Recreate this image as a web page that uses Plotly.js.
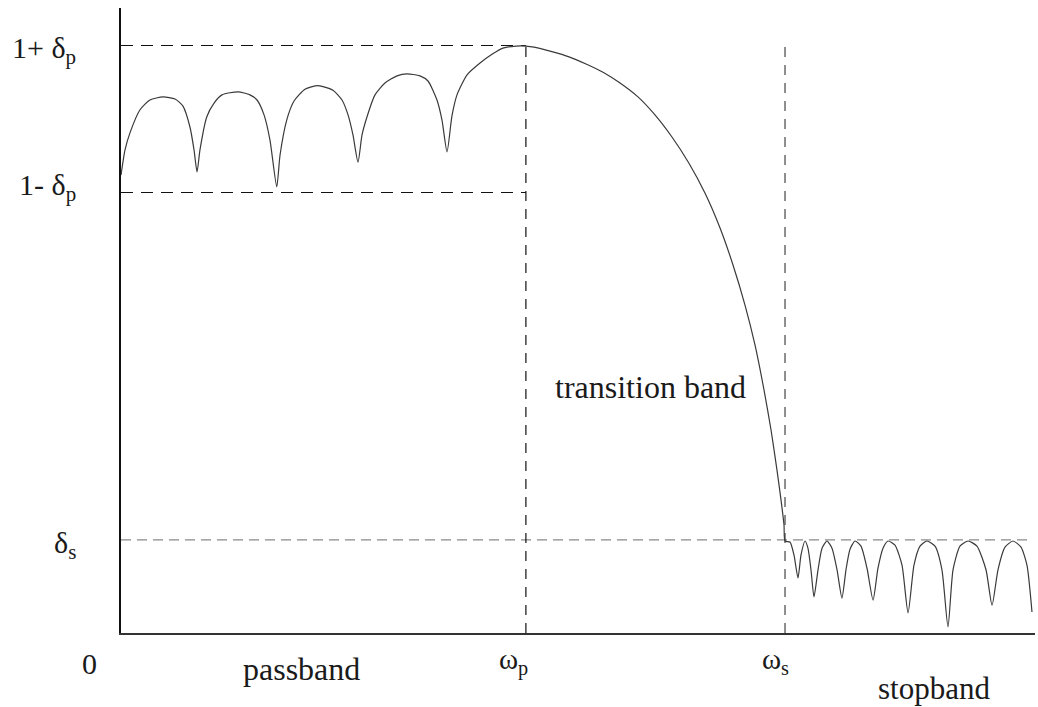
<!DOCTYPE html>
<html>
<head>
<meta charset="utf-8">
<script src="https://cdn.plot.ly/plotly-3.0.1.min.js"></script>
<style>
  html, body { margin: 0; padding: 0; background: #fff; }
  #chart { width: 1038px; height: 707px; }
</style>
</head>
<body>
<div id="chart"></div>
<script>
// Band edges (normalised frequency) and tolerance levels
const omegaP = 0.443;
const omegaS = 0.7265;
const deltaP = 0.143;
const deltaS = 0.181;

// Magnitude response: passband ripple, transition roll-off, stopband ripple
const passFreq = [0, 0.0044, 0.0098, 0.0208, 0.0317, 0.046, 0.0591, 0.0678, 0.0755, 0.0799, 0.0832,
  0.0864, 0.0938, 0.1018, 0.1105, 0.128, 0.1411, 0.1488, 0.1565, 0.163, 0.1704,
  0.174, 0.1813, 0.1893, 0.2013, 0.2155, 0.2319, 0.2418, 0.2484, 0.2538, 0.2593,
  0.2637, 0.2691, 0.2779, 0.2888, 0.302, 0.3129, 0.3271, 0.3359, 0.3457, 0.3512, 0.3567,
  0.3621, 0.3676, 0.3786, 0.3928, 0.4059, 0.4179, 0.4322, 0.443];
const passMag = [0.891, 0.94, 0.973, 1.018, 1.037, 1.043, 1.039, 1.025, 0.984, 0.94, 0.897,
  0.94, 1.004, 1.031, 1.047, 1.053, 1.047, 1.037, 1.008, 0.959, 0.868,
  0.93, 0.998, 1.035, 1.058, 1.065, 1.056, 1.037, 1.008, 0.969, 0.916,
  0.969, 1.004, 1.047, 1.07, 1.084, 1.088, 1.084, 1.074, 1.037, 0.998, 0.936,
  1.006, 1.047, 1.086, 1.109, 1.126, 1.138, 1.142, 1.142];

const transFreq = [0.4519, 0.4694, 0.4902, 0.5088, 0.5274, 0.546, 0.5656, 0.5842, 0.6028, 0.6214,
  0.6389, 0.6554, 0.6696, 0.6827, 0.6937, 0.7035, 0.7112, 0.7177, 0.7221, 0.7254, 0.7265];
const transMag = [1.14, 1.132, 1.121, 1.107, 1.091, 1.07, 1.043, 1.008, 0.965, 0.914,
  0.856, 0.788, 0.716, 0.638, 0.56, 0.473, 0.395, 0.317, 0.259, 0.21, 0.179];

const stopFreq = [0.7319, 0.7363, 0.7407, 0.744, 0.7484, 0.7516, 0.7549, 0.7582, 0.7626, 0.767,
  0.7724, 0.7779, 0.7834, 0.7888, 0.7932, 0.7976, 0.8031, 0.8096, 0.8162, 0.8228,
  0.8282, 0.8337, 0.8392, 0.8468, 0.8545, 0.8611, 0.8676, 0.8742, 0.8818, 0.8906,
  0.8982, 0.9048, 0.9103, 0.9179, 0.9267, 0.9365, 0.9464, 0.953, 0.9595, 0.9672,
  0.9759, 0.9847, 0.9912, 0.9967];
const stopMag = [0.177, 0.152, 0.107, 0.152, 0.179, 0.165, 0.123, 0.07, 0.123, 0.165,
  0.179, 0.165, 0.123, 0.068, 0.123, 0.163, 0.179, 0.169, 0.126, 0.064,
  0.126, 0.165, 0.179, 0.171, 0.132, 0.039, 0.132, 0.169, 0.179, 0.169,
  0.123, 0.012, 0.123, 0.169, 0.179, 0.169, 0.123, 0.054, 0.123, 0.167,
  0.179, 0.167, 0.132, 0.041];

// Axis labels
const yLabels = ['1+ δ<sub>p</sub>', '1- δ<sub>p</sub>', 'δ<sub>s</sub>', '0'];
const xLabels = ['ω<sub>p</sub>', 'ω<sub>s</sub>'];
const bandLabels = ['passband', 'transition band', 'stopband'];

const serif = 'Liberation Serif, Times New Roman, serif';
const ink = '#1a1a1a';

const freq = passFreq.concat(transFreq, stopFreq);
const mag = passMag.concat(transMag, stopMag);

const guide = (x, y, color, dash) => ({
  x: x, y: y, mode: 'lines', hoverinfo: 'skip',
  line: { color: color, width: 1.2, dash: dash }
});

const traces = [
  guide([0, omegaP], [1 + deltaP, 1 + deltaP], '#111', '12px,8px'),
  guide([0, omegaP], [1 - deltaP, 1 - deltaP], '#111', '12px,8px'),
  guide([0, 0.992], [deltaS, deltaS], '#8a8a8a', '10px,6px'),
  guide([omegaP, omegaP], [0, 1 + deltaP], '#111', '10px,8px'),
  guide([omegaS, omegaS], [0, 1 + deltaP + 0.01], '#444', '10px,8px'),
  {
    x: freq, y: mag, mode: 'lines', hoverinfo: 'skip',
    line: { color: '#3a3a3a', width: 1.2, shape: 'spline', smoothing: 0.6 }
  }
];

const font = size => ({ family: serif, size: size, color: ink });

const label = (text, x, y, opts) => Object.assign({
  text: text, x: x, y: y, xref: 'x', yref: 'y', showarrow: false,
  font: font(30)
}, opts);

const annotations = [
  label(yLabels[0], 0, 1 + deltaP, { xanchor: 'right', xshift: -43, yshift: -4 }),
  label(yLabels[1], 0, 1 - deltaP, { xanchor: 'right', xshift: -43, yshift: 6 }),
  label(yLabels[2], 0, deltaS, { xanchor: 'right', xshift: -43, yshift: -5 }),
  label(yLabels[3], 0, 0, { xanchor: 'center', xshift: -32, yshift: -30 }),
  label(xLabels[0], omegaP, 0, { xanchor: 'center', xshift: -12, yshift: -28, font: font(29) }),
  label(xLabels[1], omegaS, 0, { xanchor: 'center', xshift: -10, yshift: -28, font: font(29) }),
  label(bandLabels[0], 0.198, 0, { xanchor: 'center', yshift: -36, font: font(32) }),
  label(bandLabels[1], (omegaP + omegaS) / 2, 0.479, { xanchor: 'center', xshift: -5, font: font(32) }),
  label(bandLabels[2], 0.889, 0, { xanchor: 'center', yshift: -55, borderpad: 0, font: font(31) })
];

const layout = {
  width: 1038, height: 707,
  margin: { l: 121, r: 3, t: 8, b: 74 },
  paper_bgcolor: '#fff', plot_bgcolor: '#fff',
  showlegend: false,
  xaxis: {
    range: [0, 1], showgrid: false, zeroline: false, showticklabels: false,
    ticks: '', showline: true, linecolor: '#333', linewidth: 2
  },
  yaxis: {
    range: [0, 1.216], showgrid: false, zeroline: false, showticklabels: false,
    ticks: '', showline: true, linecolor: '#111', linewidth: 2
  },
  annotations: annotations
};

Plotly.newPlot('chart', traces, layout, { staticPlot: true, displayModeBar: false });
</script>
</body>
</html>
